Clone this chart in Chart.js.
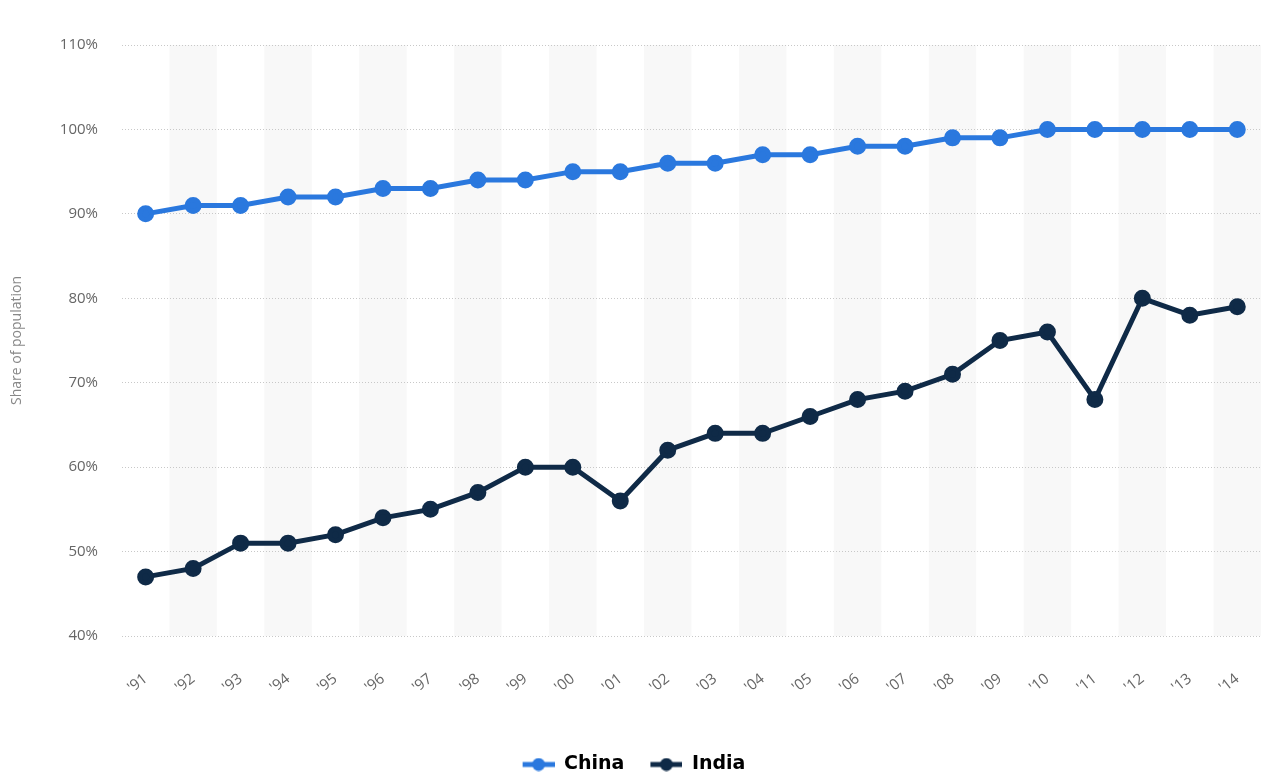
<!DOCTYPE html>
<html>
<head>
<meta charset="utf-8">
<script src="https://cdn.jsdelivr.net/npm/chart.js@4"></script>
<style>
  html, body { margin: 0; padding: 0; background: #fff; }
  #wrap { width: 1272px; height: 773px; position: relative; }
</style>
</head>
<body>
<div id="wrap"><canvas id="shareChart"></canvas></div>
<script>
const years = ["'91", "'92", "'93", "'94", "'95", "'96", "'97", "'98", "'99", "'00", "'01", "'02",
  "'03", "'04", "'05", "'06", "'07", "'08", "'09", "'10", "'11", "'12", "'13", "'14"];
const chinaShare = [90, 91, 91, 92, 92, 93, 93, 94, 94, 95, 95, 96, 96, 97, 97, 98, 98, 99, 99, 100, 100, 100, 100, 100];
const indiaShare = [47, 48, 51, 51, 52, 54, 55, 57, 60, 60, 56, 62, 64, 64, 66, 68, 69, 71, 75, 76, 68, 80, 78, 79];

const chinaColor = '#2a78de';
const indiaColor = '#0f2a47';

Chart.defaults.font.family = "'Open Sans', 'DejaVu Sans', sans-serif";
Chart.defaults.color = '#666';

// legend marker: short line with a dot, with some blank room on the left as a gap
const legendMarker = (color) => {
  const c = document.createElement('canvas');
  c.width = 46; c.height = 14;
  const ctx = c.getContext('2d');
  ctx.strokeStyle = color;
  ctx.lineWidth = 5;
  ctx.beginPath(); ctx.moveTo(14, 7); ctx.lineTo(46, 7); ctx.stroke();
  ctx.fillStyle = color;
  ctx.beginPath(); ctx.arc(30, 7, 6.5, 0, Math.PI * 2); ctx.fill();
  return c;
};

// alternating grey column bands behind everything
const bandPlugin = {
  id: 'bands',
  beforeDraw(chart) {
    const { ctx, chartArea, scales } = chart;
    const x = scales.x;
    const w = x.getPixelForValue(1) - x.getPixelForValue(0);
    ctx.save();
    ctx.fillStyle = '#f8f8f8';
    years.forEach((y, i) => {
      if (i % 2 === 1) {
        const cx = x.getPixelForValue(i);
        ctx.fillRect(cx - w / 2, chartArea.top, w, chartArea.bottom - chartArea.top);
      }
    });
    ctx.restore();
  },
  // nudge the legend a bit left, the blank in front of the first marker pushes it right
  afterLayout(chart) {
    chart.legend.left -= 8;
    chart.legend.right -= 8;
  }
};

new Chart(document.getElementById('shareChart'), {
  type: 'line',
  data: {
    labels: years,
    datasets: [
      {
        label: 'China',
        data: chinaShare,
        borderColor: chinaColor,
        backgroundColor: chinaColor,
        borderWidth: 5,
        pointRadius: 6,
        pointHoverRadius: 6,
        tension: 0,
      },
      {
        label: 'India',
        data: indiaShare,
        borderColor: indiaColor,
        backgroundColor: indiaColor,
        borderWidth: 5,
        pointRadius: 6,
        pointHoverRadius: 6,
        tension: 0,
      },
    ],
  },
  options: {
    responsive: true,
    maintainAspectRatio: false,
    animation: false,
    layout: { padding: { left: 5, right: 7, top: 45, bottom: -11 } },
    plugins: {
      tooltip: { enabled: false },
      legend: {
        position: 'bottom',
        labels: {
          usePointStyle: true,
          pointStyleWidth: 46,
          padding: 12,
          font: { family: "'DejaVu Sans', sans-serif", size: 19, weight: 'bold', lineHeight: 1 },
          color: '#444',
          generateLabels(chart) {
            return chart.data.datasets.map((ds, i) => ({
              text: ds.label,
              pointStyle: legendMarker(ds.borderColor),
              fillStyle: ds.borderColor,
              strokeStyle: ds.borderColor,
              lineWidth: 0,
              hidden: false,
              datasetIndex: i,
            }));
          },
        },
      },
    },
    scales: {
      x: {
        offset: true,
        grid: { display: false },
        border: { display: false },
        afterFit(scale) {
          scale.height = 107;
          scale.paddingRight = 0; // the rotated labels end at their tick, no room needed
        },
        ticks: {
          minRotation: 38,
          maxRotation: 38,
          autoSkip: false,
          padding: 26,
          font: { size: 15 },
          color: '#666',
        },
      },
      y: {
        min: 40,
        max: 110,
        border: { display: false, dash: [1, 2] },
        grid: { color: '#c8c8c8', lineWidth: 1, drawTicks: false },
        ticks: {
          stepSize: 10,
          padding: 24,
          font: { size: 15 },
          color: '#666',
          callback: (v) => v + '%',
        },
        title: {
          display: true,
          text: 'Share of population',
          font: { size: 14 },
          color: '#888',
          padding: { bottom: 10 },
        },
      },
    },
  },
  plugins: [bandPlugin],
});
</script>
</body>
</html>
